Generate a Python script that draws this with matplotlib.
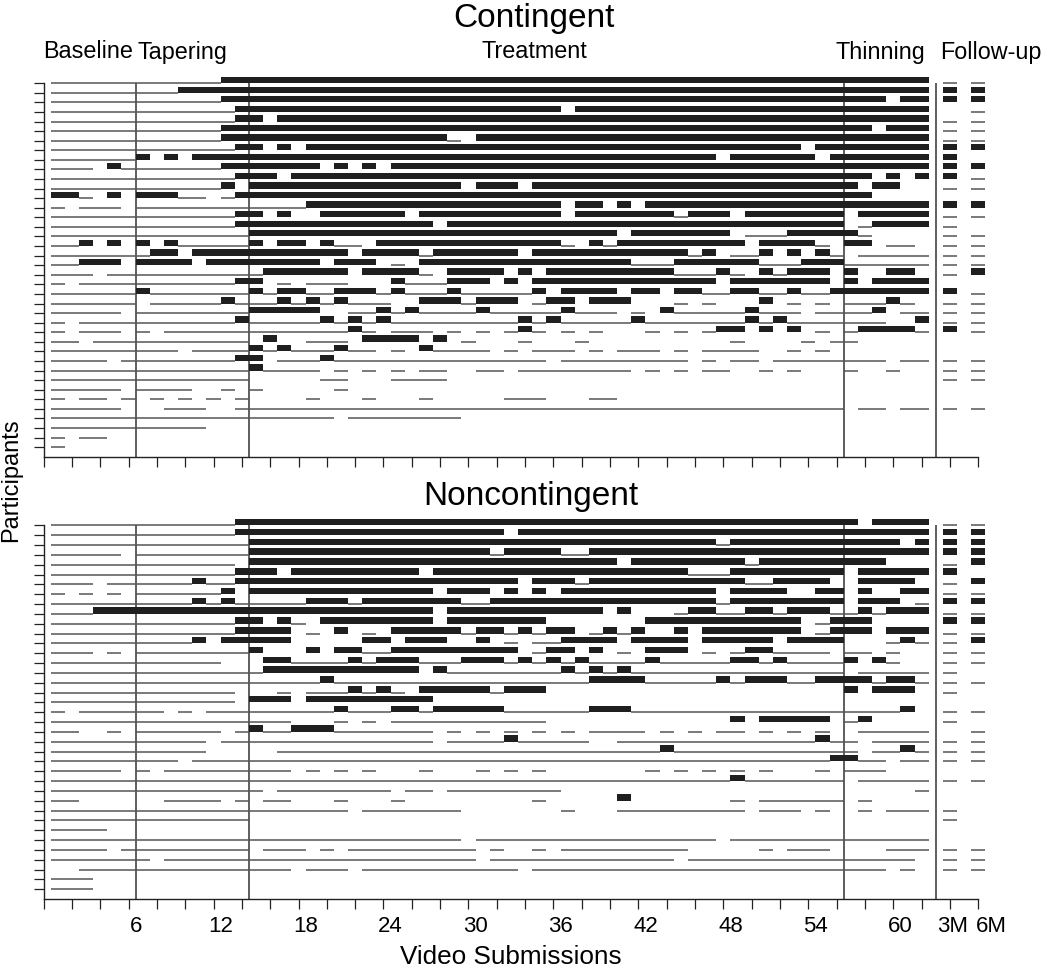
import re
import matplotlib
matplotlib.use("Agg")
import matplotlib.pyplot as plt
from matplotlib.transforms import blended_transform_factory

plt.rcParams['font.family'] = ['Liberation Sans', 'DejaVu Sans']

# Submission codes (run-length encoded, submissions 1..62):
#   B = negative sample (abstinent, thick bar), - = positive sample (thin line), . = missing
contingent_rows = [
    "12- 50B", "9- 53B", "12- 47B 1. 2B", "13- 23B 1. 25B", "13- 2B 1. 46B",
    "12- 46B 1. 3B", "12- 16B 1- 1. 32B", "13- 2B 1. 1B 1. 35B 1. 8B",
    "6- 1B 1. 1B 1. 37B 1. 6B 1. 7B", "3- 1. 1B 7- 7B 1. 1B 1. 1B 1. 38B",
    "13- 3B 1. 41B 1. 1B 1. 1B", "12- 1B 1. 15B 1. 3B 1. 23B 1. 2B 2.",
    "2B 1- 1. 1B 1. 3B 2- 1. 1- 45B 4.", "1- 1. 3- 1. 12- 18B 1. 2B 1. 1B 1. 20B",
    "13- 2B 1. 1B 2. 6B 1. 10B 1. 7B 1- 3B 1. 7B 1. 5B", "13- 14B 1. 28B 1. 1- 4B",
    "14- 26B 1. 7B 1. 3- 5B 1- 4.",
    "2- 1B 1. 1B 1. 1B 1. 1B 5- 1B 1. 2B 1. 1B 2- 1. 13B 1- 1. 1B 1- 9B 1. 4B 1- 1. 2B 1. 2- 1.",
    "7- 2B 1. 11B 1. 4B 1- 6B 1. 11B 1- 1B 1. 2- 1B 1. 1B 1. 1B 1- 1. 5-",
    "2- 3B 1. 4B 1. 8B 1. 3B 1. 1- 1. 15B 3- 6B 3- 3B 6-",
    "3- 1. 11- 6B 1. 4B 1- 1. 4B 1. 1B 1. 9B 3- 1B 1- 1. 1B 1- 3B 1. 1B 2. 2B 1.",
    "1- 1. 11- 2B 1. 1- 1. 3- 3. 1B 3- 3B 1. 1B 1. 13B 1. 7B 1. 1B 1. 4B",
    "6- 1B 7- 1B 1- 2B 2- 3B 1- 1B 3- 1B 5- 1B 1. 4B 1. 2B 1. 2B 2- 2B 2- 1B 2- 7B",
    "6- 1. 5- 1B 3- 1B 1- 1B 1- 1B 3- 2. 3B 1- 3B 1. 1- 2B 1. 3B 3. 1- 1. 1- 3. 1B 1. 1- 1. 1- 1. 3- 1B 1- 1.",
    "5- 1. 8- 5B 2. 2- 1B 1- 1B 4- 1B 5- 1B 3- 1. 1- 1. 1B 5- 1B 3- 1. 4- 1B 1. 2-",
    "1- 1. 11- 1B 5- 1B 1- 1B 1- 1B 9- 1B 1- 1B 5- 1B 7- 1B 1- 1B 7- 2. 1B",
    "1- 1. 3- 1. 1- 1. 13- 1B 1- 1. 3- 1. 1- 1. 1- 1. 1- 1B 1- 1. 1- 1. 1- 3. 1- 1. 1- 1. 1- 2B 1. 1B 1. 1B 1. 1- 1. 1- 4B 1-",
    "2- 1. 11- 1. 1B 2. 3- 1. 4B 1. 1B 1. 1- 3. 1- 3. 1- 10. 1- 4. 1- 1. 2- 5.",
    "9- 1. 4- 1B 1- 1B 3- 1B 2- 1. 1- 1. 1B 4- 1. 1- 1. 3- 1. 1- 1. 3- 1. 1- 1. 4- 2. 1- 1. 1- 7.",
    "4- 1. 8- 2B 1. 3- 1B 15- 1. 9- 1. 1- 1. 2- 1. 8- 1. 2-",
    "14- 1B 4- 1. 1- 1. 1- 1. 1- 1. 2- 2. 2- 1. 8- 1. 1- 1. 1- 1. 2- 2. 1- 1. 1- 3. 1- 2. 1- 2.",
    "14- 5. 2- 3. 4- 34.", "5- 1. 4- 2. 1- 1. 1- 5. 1- 41.",
    "1- 1. 2- 1. 1- 1. 1- 1. 1- 1. 1- 1. 1- 4. 1- 3. 1- 3. 1- 5. 3- 3. 2- 22.",
    "5- 3. 3- 2. 43- 1. 2- 1. 2-", "20- 1. 8- 33.", "11- 51.", "1- 1. 2- 58.", "1- 61.",
]
contingent_followup = [
    "--", "BB", "BB", ".-", "--", "--", "--", "BB", "B.", "BB",
    "B-", "--", "..", "BB", "--", "-.", "--", "--", "--", "--",
    "-B", "..", "B-", "--", "--", "--", "B-", "..", "..", "--",
    "--", "--", "..", "..", "--", "..", "..", "..", "..",
]

noncontingent_rows = [
    "13- 44B 1. 4B", "13- 19B 1. 29B", "14- 33B 1- 12B 1. 1B", "5- 1. 8- 17B 1- 4B 2- 24B",
    "13- 1. 26B 1. 8B 1- 9B 3.", "13- 3B 1. 9B 1. 18B 3- 8B 1. 5B",
    "3- 1. 6- 1B 2- 20B 1. 3B 1- 11B 2- 4B 2. 4B 1.",
    "1- 1. 1- 1. 1- 1. 6- 1B 1. 13B 1. 3B 1. 1B 1. 1B 1. 11B 1. 4B 2. 2B 1. 1B 2. 2B",
    "10- 1B 1- 1B 5- 3B 1- 7B 2- 16B 1- 8B 1. 3B 1. 1-",
    "3- 24B 1. 11B 1. 1B 3. 1- 2B 2- 2B 1- 3B 2- 1B 1- 3B",
    "13- 2B 1. 1B 1- 1. 8B 1. 7B 7. 11B 1. 1- 3B 4.",
    "13- 4B 1. 1- 1. 1B 1. 1- 1. 5B 1- 2B 1- 1B 1- 2B 1. 1- 1B 1- 1B 2. 1B 1. 7B 1. 1- 3B 1. 3B",
    "10- 1B 1. 5B 5. 2B 1. 3B 2. 1B 1. 1- 1. 2- 4B 1. 4B 1. 5B 1. 4B 3. 1- 1B 1-",
    "3- 1. 1- 1. 8- 1B 3. 1B 1. 2B 2- 9B 1. 1- 2B 1. 1B 1. 1- 1. 3B 1. 1- 1. 1- 2B 4- 1. 2- 1. 1- 2.",
    "12- 3. 2B 4- 1B 1- 3B 3- 3B 1- 1B 1- 1B 1- 1B 4- 1B 5- 2B 1- 1B 4- 1B 1. 1B 1- 2.",
    "15- 11B 1. 1B 8- 1B 1- 1B 1- 1B 15- 1. 5-",
    "19- 1B 18- 4B 5- 1B 1- 3B 2- 4B 1- 2B 1-",
    "13- 3. 1- 1. 3- 1B 1- 1B 1- 1. 5B 1- 3B 21. 1B 1. 3B 1.",
    "13- 1. 3B 1. 9B 35.",
    "1- 1. 6- 1. 1- 1. 9- 1B 3- 2B 1- 5B 6- 3B 19- 1B 1.",
    "17- 3. 1- 1. 1- 1. 11- 13. 1B 1. 5B 1. 1- 1B 4.",
    "2- 2. 1- 1. 6- 1. 1- 1B 2- 3B 7- 1. 1- 1. 1- 1. 1- 1. 1- 1. 1- 1. 4- 1. 1- 1. 1- 1. 2- 1. 1- 1. 1- 1. 1- 2. 5-",
    "11- 1. 15- 1. 4- 1B 5- 2. 14- 1B 2- 1. 4-",
    "11- 5. 27- 1B 13- 1. 2- 1B 1-",
    "9- 1. 45- 2B 2- 1. 2-",
    "5- 1. 1- 1. 9- 1. 1- 1. 1- 1. 1- 3. 1- 3. 1- 1. 1- 1. 1- 7. 1- 1. 1- 1. 1- 1. 1- 1. 1- 3. 1- 1. 3- 3.",
    "48- 1B 7- 1. 5-",
    "15- 1. 8- 1. 2- 1. 8- 25. 1-",
    "2- 6. 4- 1. 1- 1. 2- 3. 1- 3. 1- 9. 1- 5. 1B 7. 1- 1. 6- 1. 1- 4.",
    "21- 1. 7- 7. 1- 3. 9- 1. 3- 1. 1- 2. 1- 1. 3-",
    "14- 48.", "4- 58.", "29- 1. 17- 1. 14-",
    "4- 1. 9- 1. 3- 1. 1- 1. 9- 1. 1- 2. 1- 1. 9- 5. 1- 1. 3- 4. 3-",
    "7- 1. 22- 1. 13- 1. 16- 1.",
    "2. 15- 1. 3- 1. 11- 1. 25- 1. 1- 1.",
    "3- 59.", "3- 59.",
]
noncontingent_followup = [
    "--", "BB", "BB", "BB", "-B", "B.", "-B", "--", "BB", "--",
    "BB", "--", "-B", "--", "--", "-.", "--", "-.", "..", "--",
    "-.", ".-", "--", "--", "--", "..", "--", "..", "..", "-.",
    "-.", "..", "..", "--", "--", "--", "..", "..",
]

n_submissions = 62
followup_positions = [64, 66]
phase_boundaries = [6.5, 14.5, 56.5, 63]
tick_label_text = ["6", "12", "18", "24", "30", "36", "42", "48", "54", "60", "3M", "6M"]
tick_label_pos = [6.5, 12.5, 18.5, 24.5, 30.5, 36.5, 42.5, 48.5, 54.5, 60.5, 64.2, 66.9]

BAR_COLOR = "#1f1f1f"
LINE_COLOR = "#555555"
BAR_H = 0.66


def expand(code):
    seq = []
    for n, c in re.findall(r"(\d+)([B\-.])", code):
        seq.extend([c] * int(n))
    seq = (seq + ["."] * n_submissions)[:n_submissions]
    return seq


def draw_panel(ax, rows, follow):
    n = len(rows)
    for i, (code, fu) in enumerate(zip(rows, follow)):
        y = n - i
        seq = expand(code)
        j = 0
        while j < n_submissions:
            c = seq[j]
            k = j
            while k < n_submissions and seq[k] == c:
                k += 1
            x0, x1 = j + 0.5, k + 0.5
            if c == "B":
                ax.broken_barh([(x0, x1 - x0)], (y, BAR_H), facecolor=BAR_COLOR,
                               edgecolor="none", clip_on=False, zorder=3)
            elif c == "-":
                ax.hlines(y, x0, x1, color=LINE_COLOR, lw=1.1, clip_on=False, zorder=2)
            j = k
        for xp, c in zip(followup_positions, fu):
            if c == "B":
                ax.broken_barh([(xp - 0.5, 1.0)], (y, BAR_H), facecolor=BAR_COLOR,
                               edgecolor="none", clip_on=False, zorder=3)
            elif c == "-":
                ax.hlines(y, xp - 0.5, xp + 0.5, color=LINE_COLOR, lw=1.1,
                          clip_on=False, zorder=2)
    ax.vlines(phase_boundaries, 0, n, color="#333333", lw=1.1, zorder=1)
    ax.set_xlim(0, 66)
    ax.set_ylim(0, n)
    ax.set_xticks(range(0, 67, 2))
    ax.set_xticklabels([])
    ax.set_yticks(range(1, n + 1))
    ax.set_yticklabels([])
    ax.tick_params(direction="out", length=7, width=0.9, color="#222222")
    for s in ("top", "right"):
        ax.spines[s].set_visible(False)
    for s in ("left", "bottom"):
        ax.spines[s].set_linewidth(1.0)
        ax.spines[s].set_color("#222222")


W, H = 1050, 969
fig = plt.figure(figsize=(W / 100, H / 100), dpi=100)


def rect(l, r, b, t):
    return [l / W, 1 - b / H, (r - l) / W, (b - t) / H]


ax1 = fig.add_axes(rect(43.6, 978.3, 456.7, 83.3))
ax2 = fig.add_axes(rect(43.6, 978.3, 899.0, 525.4))
draw_panel(ax1, contingent_rows, contingent_followup)
draw_panel(ax2, noncontingent_rows, noncontingent_followup)

tr = blended_transform_factory(ax2.transData, fig.transFigure)
for pos, lab in zip(tick_label_pos, tick_label_text):
    ax2.text(pos, 1 - 926 / H, lab, transform=tr, ha="center", va="center", fontsize=16)


def ftext(x, y, s, **kw):
    fig.text(x / W, 1 - y / H, s, **kw)


ftext(534, 19, "Contingent", ha="center", va="center", fontsize=24)
ftext(531, 497, "Noncontingent", ha="center", va="center", fontsize=24)
ftext(43, 52, "Baseline", ha="left", va="center", fontsize=16.8)
ftext(138, 52, "Tapering", ha="left", va="center", fontsize=16.8)
ftext(534, 52, "Treatment", ha="center", va="center", fontsize=16.8)
ftext(836, 52, "Thinning", ha="left", va="center", fontsize=16.8)
ftext(940, 52, "Follow-up", ha="left", va="center", fontsize=16.8)
ftext(11, 480, "Participants", ha="center", va="center", rotation=90, fontsize=17)
ftext(511, 957, "Video Submissions", ha="center", va="center", fontsize=18.8)

fig.savefig("out.png", dpi=100)
